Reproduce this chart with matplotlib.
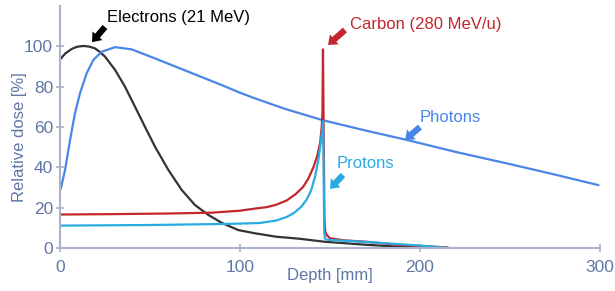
import matplotlib
matplotlib.use("Agg")
import matplotlib.pyplot as plt

plt.rcParams['font.family'] = ['Liberation Sans', 'DejaVu Sans']

# depth-dose curves (depth in mm, dose in %)
photon_x = [0.5, 2.8, 5.6, 8.3, 11.1, 14.8, 18.5, 23.1, 30.6, 39.8, 52.8, 71.3, 89.8, 100, 108.3,
            125, 145.4, 170, 192.6, 220, 248, 275, 299]
photon_y = [29.6, 38.7, 53.6, 66.8, 76.7, 86.6, 93.2, 97.3, 99.6, 98.5, 94, 87.4, 80.8, 77, 74.2,
            69, 63.5, 58.2, 53.6, 47.6, 42, 36.4, 31.2]

electron_x = [0.5, 3, 6.5, 9.5, 13, 16, 19.4, 22, 25, 30.6, 36.1, 41.7, 47.2, 52.8, 60.2, 67.6,
              75, 82.4, 89.8, 99, 108.3, 120, 133, 147, 170, 189, 216]
electron_y = [94, 96.5, 98.7, 99.8, 100.2, 99.9, 99, 97.3, 94.9, 88.3, 80, 70, 60.1, 50.2, 38.7,
              28.8, 21.3, 16.4, 12.5, 8.9, 7.3, 5.6, 4.6, 3.1, 1.6, 0.6, 0]

carbon_x = [0.5, 30, 60, 84, 100, 108, 115, 120, 126, 131, 135, 138, 141, 143, 144.5, 145.4,
            145.8, 146.1, 146.5, 146.9, 147.3, 148, 150, 158, 170, 189, 215]
carbon_y = [16.6, 16.8, 17.1, 17.5, 18.5, 19.5, 20.3, 21.4, 23.6, 26.8, 30.2, 34.5, 40.5, 46,
            52, 60, 67, 98.5, 55, 15, 8.5, 6.6, 4.8, 3.8, 3.1, 1.5, 0.3]

proton_x = [0.5, 50, 90, 100, 111, 120, 126, 130, 134, 137, 139.5, 141.7, 143.5, 145, 145.8,
            146.2, 146.5, 146.8, 147.2, 148, 150, 170, 200, 216]
proton_y = [11.1, 11.4, 11.9, 12.1, 12.4, 13.6, 15.4, 17.4, 20.4, 24, 28.5, 35.4, 43.5, 53,
            60, 63, 35, 8, 4.6, 4.2, 4, 3, 1.2, 0]

xticks = [0, 100, 200, 300]
yticks = [0, 20, 40, 60, 80, 100]

axis_col = '#a9b3c9'
text_col = '#5f77a6'
c_photon = '#4a86e8'
c_electron = '#333333'
c_carbon = '#c1272d'
c_proton = '#29abe2'

fig = plt.figure(figsize=(6.15, 2.91), dpi=100)
ax = fig.add_axes([60 / 615, 1 - 248 / 291, 540 / 615, 242 / 291])

ax.plot(electron_x, electron_y, color=c_electron, lw=1.6)
ax.plot(photon_x, photon_y, color=c_photon, lw=1.6)
ax.plot(carbon_x, carbon_y, color=c_carbon, lw=1.6)
ax.plot(proton_x, proton_y, color=c_proton, lw=1.6)

ax.set_xlim(0, 300)
ax.set_ylim(0, 120)
ax.set_xticks(xticks)
ax.set_yticks(yticks)
for s in ['top', 'right']:
    ax.spines[s].set_visible(False)
for s in ['left', 'bottom']:
    ax.spines[s].set_color(axis_col)
    ax.spines[s].set_linewidth(1.5)
ax.tick_params(direction='inout', length=6, width=1.2, color=axis_col,
               labelcolor=text_col, labelsize=12.5)
ax.tick_params(axis='y', pad=2)
ax.tick_params(axis='x', pad=6)

ax.set_ylabel('Relative dose [%]', color=text_col, fontsize=12, va='center')
ax.yaxis.set_label_coords(-0.075, 0.46)
ax.set_xlabel('Depth [mm]', color=text_col, fontsize=12, va='center')
ax.xaxis.set_label_coords(0.5, -0.112)

def label(txt, tx, ty, head, tail, col):
    ax.text(tx, ty, txt, color=col, fontsize=12, va='center', ha='left')
    ax.annotate('', xy=head, xytext=tail,
                arrowprops=dict(arrowstyle='simple,head_width=0.95,head_length=0.6,tail_width=0.45',
                                color=col, lw=0, shrinkA=0, shrinkB=0))

label('Electrons (21 MeV)', 26.1, 114.3, (17.8, 102.1), (25, 109.6), 'black')
label('Carbon (280 MeV/u)', 161.1, 110.8, (148.9, 100.7), (158.3, 108.1), c_carbon)
label('Photons', 200, 64.7, (191.7, 53.6), (200, 60), c_photon)
label('Protons', 153.9, 41.7, (150, 29.3), (157.2, 36.2), c_proton)

fig.savefig('out.png', dpi=100)
